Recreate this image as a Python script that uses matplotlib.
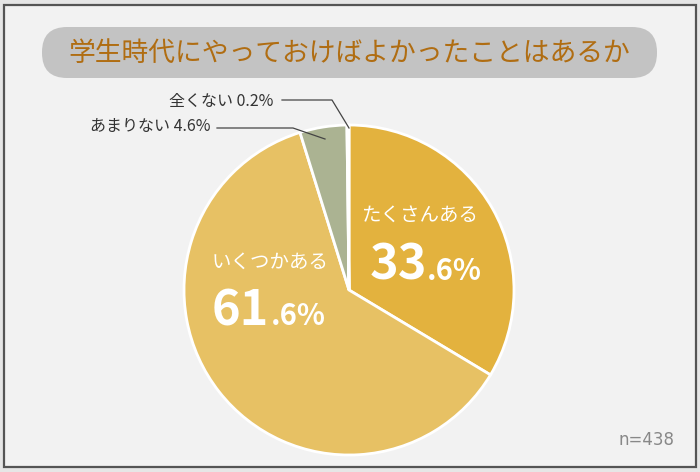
import matplotlib.pyplot as plt
from matplotlib.patches import FancyBboxPatch, Rectangle

plt.rcParams['font.family'] = ['Noto Sans CJK JP', 'DejaVu Sans']

# data
title = '学生時代にやっておけばよかったことはあるか'
labels = ['たくさんある', 'いくつかある', 'あまりない', '全くない']
values = [33.6, 61.6, 4.6, 0.2]
colors = ['#e3b23e', '#e7c164', '#abb392', '#eee8d6']
n_text = 'n=438'

W, H = 700, 472
fig = plt.figure(figsize=(W / 100, H / 100), dpi=100)
fig.patch.set_facecolor('#e6e6e6')
ax = fig.add_axes([0, 0, 1, 1])


def py(y):
    # pixel y (top-down) -> data y
    return H - y


# frame
ax.add_patch(Rectangle((4, py(467)), 692, 462, facecolor='#f2f2f2',
                       edgecolor='#555555', linewidth=1.6, zorder=0))

# title box
ax.add_patch(FancyBboxPatch((42, py(78)), 615, 51,
                            boxstyle='round,pad=0,rounding_size=25',
                            facecolor='#c3c3c3', edgecolor='none', zorder=1))
ax.text(349, py(53), title, ha='center', va='center', fontsize=19.3,
        color='#b06d12', zorder=2)

# pie
cx, cy, r = 349, py(290), 165
ax.pie(values, colors=colors, startangle=90, counterclock=False,
       center=(cx, cy), radius=r, frame=True,
       wedgeprops=dict(edgecolor='white', linewidth=2))
ax.set_xlim(0, W)
ax.set_ylim(0, H)
ax.set_aspect('equal')
ax.axis('off')

# inner labels
ax.text(420, py(215), labels[0], ha='center', va='center', fontsize=14,
        color='white')
ax.text(370, py(280), '33', ha='left', va='baseline', fontsize=35,
        fontweight='bold', color='white')
ax.text(427, py(280), f'.{str(values[0]).split(".")[1]}%', ha='left',
        va='baseline', fontsize=21, fontweight='bold', color='white')

ax.text(270, py(262), labels[1], ha='center', va='center', fontsize=14,
        color='white')
ax.text(212, py(325), '61', ha='left', va='baseline', fontsize=35,
        fontweight='bold', color='white')
ax.text(271, py(325), f'.{str(values[1]).split(".")[1]}%', ha='left',
        va='baseline', fontsize=21, fontweight='bold', color='white')

# outer labels with leader lines
ax.text(273, py(101), f'{labels[3]} {values[3]}%', ha='right', va='center',
        fontsize=11.5, color='#333333')
ax.plot([282, 332, 349], [py(100), py(100), py(128)], color='#444444', lw=0.9)
ax.text(211, py(127), f'{labels[2]} {values[2]}%', ha='right', va='center',
        fontsize=11.5, color='#333333')
ax.plot([217, 293, 325], [py(128), py(128), py(139)], color='#444444', lw=0.9)

ax.text(674, py(440), n_text, ha='right', va='center', fontsize=12,
        color='#888888', family='DejaVu Sans')

fig.savefig('out.png', dpi=100, facecolor=fig.get_facecolor())
